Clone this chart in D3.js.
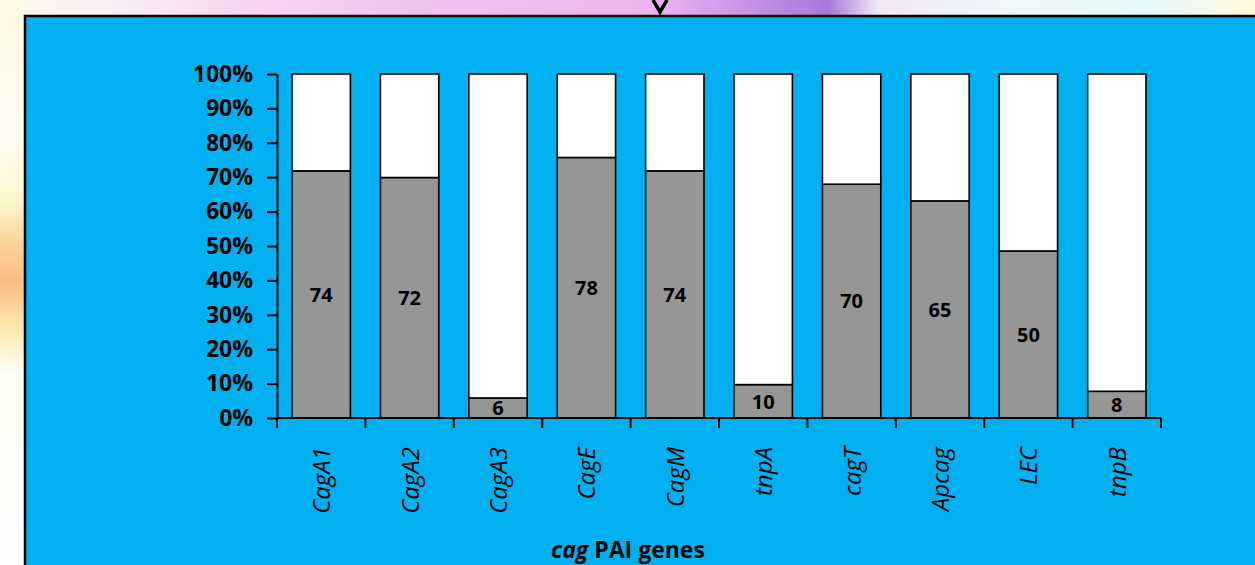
<!DOCTYPE html>
<html>
<head>
<meta charset="utf-8">
<script src="https://cdn.jsdelivr.net/npm/d3@7/dist/d3.min.js"></script>
<style>
  html, body { margin: 0; padding: 0; background: #fff; }
  svg { display: block; }
</style>
</head>
<body>
<svg id="chart" width="1255" height="565"></svg>
<script>
// cag PAI gene detection: isolates positive (grey) vs negative (white)
const genes = ["CagA1", "CagA2", "CagA3", "CagE", "CagM", "tnpA", "cagT", "Apcag", "LEC", "tnpB"];
const positive = [74, 72, 6, 78, 74, 10, 70, 65, 50, 8];
const negative = [29, 31, 97, 25, 29, 93, 33, 38, 53, 95];
const yTicks = [0, 0.1, 0.2, 0.3, 0.4, 0.5, 0.6, 0.7, 0.8, 0.9, 1.0];

const rows = genes.map((g, i) => ({ gene: g, pos: positive[i], neg: negative[i] }));

const svg = d3.select("#chart");
const defs = svg.append("defs");

// slide backdrop behind the panel
const topGrad = defs.append("linearGradient").attr("id", "topBand").attr("x1", 0).attr("x2", 1).attr("y1", 0).attr("y2", 0);
[[0, "#fdf8e6"], [0.09, "#fbeef6"], [0.2, "#f7d4f2"], [0.35, "#f2c0ee"], [0.52, "#eeb4f0"], [0.6, "#c890e6"], [0.66, "#a878d8"], [0.7, "#f3e8f6"], [0.8, "#eef8fb"], [0.92, "#e6fafa"], [1, "#fff8d8"]]
  .forEach(([o, c]) => topGrad.append("stop").attr("offset", o).attr("stop-color", c));

const leftGrad = defs.append("linearGradient").attr("id", "leftBand").attr("x1", 0).attr("x2", 0).attr("y1", 0).attr("y2", 1);
[[0, "#fffbe6"], [0.25, "#fffdf3"], [0.36, "#fdf6c8"], [0.44, "#fccf96"], [0.5, "#fbbc80"], [0.58, "#fde8b0"], [0.66, "#fffef4"], [1, "#ffffff"]]
  .forEach(([o, c]) => leftGrad.append("stop").attr("offset", o).attr("stop-color", c));

svg.append("rect").attr("x", 0).attr("y", 0).attr("width", 1255).attr("height", 565).attr("fill", "#ffffff");
svg.append("rect").attr("x", 0).attr("y", 0).attr("width", 1255).attr("height", 16).attr("fill", "url(#topBand)");
svg.append("rect").attr("x", 0).attr("y", 0).attr("width", 24).attr("height", 565).attr("fill", "url(#leftBand)");
// tip of the slide's pointer above the panel
svg.append("path").attr("d", "M653,0 L660,12 L667,0")
  .attr("fill", "none").attr("stroke", "#000").attr("stroke-width", 3.5).attr("stroke-linejoin", "miter");

// blue panel holding the chart
svg.append("rect").attr("x", 25).attr("y", 16).attr("width", 1260).attr("height", 580)
  .attr("fill", "#00b0f0").attr("stroke", "#000").attr("stroke-width", 2.5);

const margin = { left: 277, right: 1161, top: 74, bottom: 418 };

const x = d3.scaleBand().domain(genes).range([margin.left, margin.right]).paddingInner(0.34).paddingOuter(0.17);
const y = d3.scaleLinear().domain([0, 1]).range([margin.bottom, margin.top]);

const stack = d3.stack().keys(["pos", "neg"]).offset(d3.stackOffsetExpand);
const series = stack(rows);
const fills = { pos: "#969696", neg: "#ffffff" };

const g = svg.append("g");
series.forEach(s => {
  g.append("g").selectAll("rect").data(s).join("rect")
    .attr("x", d => x(d.data.gene))
    .attr("width", x.bandwidth())
    .attr("y", d => y(d[1]))
    .attr("height", d => y(d[0]) - y(d[1]))
    .attr("fill", fills[s.key])
    .attr("stroke", "#000")
    .attr("stroke-width", 1.6);
});

// value labels centred in the positive segment
g.append("g").selectAll("text").data(series[0]).join("text")
  .attr("x", d => x(d.data.gene) + x.bandwidth() / 2)
  .attr("y", d => (y(d[0]) + y(d[1])) / 2)
  .attr("dy", "0.36em")
  .attr("text-anchor", "middle")
  .attr("font-family", "Open Sans, sans-serif")
  .attr("font-weight", 700)
  .attr("font-size", 20)
  .attr("fill", "#000")
  .text(d => d.data.pos);

// y axis
const yAxis = svg.append("g").attr("transform", `translate(${margin.left},0)`)
  .call(d3.axisLeft(y).tickValues(yTicks).tickFormat(d3.format(".0%")).tickSize(10).tickSizeOuter(0).tickPadding(14));
yAxis.select(".domain").attr("stroke", "#000").attr("stroke-width", 2);
yAxis.selectAll(".tick line").attr("stroke", "#000").attr("stroke-width", 2);
yAxis.selectAll(".tick text")
  .attr("font-family", "Open Sans, sans-serif").attr("font-weight", 700).attr("font-size", 23).attr("fill", "#000");

// x axis: ticks on category boundaries
const xAxis = svg.append("g").attr("transform", `translate(0,${margin.bottom})`);
xAxis.append("line").attr("x1", margin.left).attr("x2", margin.right).attr("y1", 0).attr("y2", 0)
  .attr("stroke", "#000").attr("stroke-width", 2);
const bounds = d3.range(genes.length + 1).map(i => margin.left + i * (margin.right - margin.left) / genes.length);
xAxis.selectAll("line.tk").data(bounds).join("line").attr("class", "tk")
  .attr("x1", d => d).attr("x2", d => d).attr("y1", 0).attr("y2", 10)
  .attr("stroke", "#000").attr("stroke-width", 2);
xAxis.selectAll("text").data(genes).join("text")
  .attr("transform", d => `translate(${x(d) + x.bandwidth() / 2 + 9},29) rotate(-90)`)
  .attr("text-anchor", "end")
  .attr("font-family", "Open Sans, sans-serif")
  .attr("font-style", "italic")
  .attr("font-size", 24)
  .attr("fill", "#000")
  .text(d => d);

// axis title
const title = svg.append("text").attr("x", 628).attr("y", 558).attr("text-anchor", "middle")
  .attr("font-family", "Open Sans, sans-serif").attr("font-weight", 700).attr("font-size", 23).attr("fill", "#000");
title.append("tspan").attr("font-style", "italic").text("cag");
title.append("tspan").text(" PAI genes");
</script>
</body>
</html>
